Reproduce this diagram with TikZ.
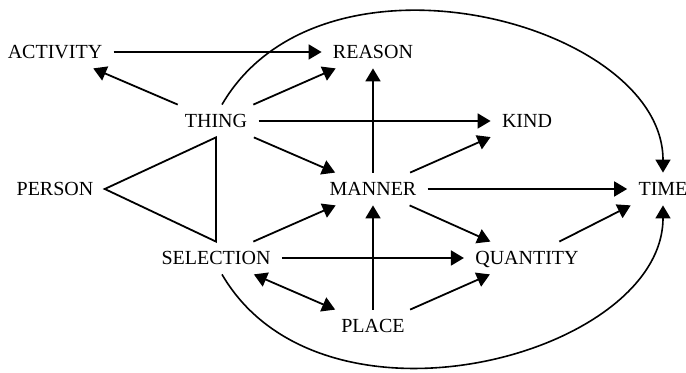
\documentclass[tikz,border=0pt]{standalone}
\usepackage{fontspec}
\setmainfont{Liberation Serif}
\usetikzlibrary{arrows.meta}
\tikzset{
  conceptnode/.style={
    inner xsep=5.5pt,
    inner ysep=4.7pt,
    text height=6.6pt,
    text depth=0pt,
    font=\normalsize
  },
  relflow/.style={-{Triangle[length=6.5pt,width=7.5pt]},line width=0.9pt,draw=black},
  twoway/.style={{Triangle[length=6.5pt,width=7.5pt]}-{Triangle[length=6.5pt,width=7.5pt]},line width=0.9pt,draw=black},
  longflow/.style={-{Triangle[length=6.5pt,width=7.5pt]},line width=0.8pt,draw=black},
  plainedge/.style={line width=0.9pt,draw=black}
}
\begin{document}
\begin{tikzpicture}[x=1pt,y=1pt]
  \useasboundingbox (0,0) rectangle (343,186.5);
  \node[conceptnode] (activity) at (27.5,160.5) {ACTIVITY};
  \node[conceptnode] (reason) at (186.5,160.5) {REASON};
  \node[conceptnode] (thing) at (108,126) {THING};
  \node[conceptnode] (kind) at (263.5,126) {KIND};
  \node[conceptnode] (person) at (27.5,92) {PERSON};
  \node[conceptnode] (manner) at (186.5,92) {MANNER};
  \node[conceptnode] (time) at (331.5,92) {TIME};
  \node[conceptnode] (selection) at (108,57.5) {SELECTION};
  \node[conceptnode] (quantity) at (263.5,57.5) {QUANTITY};
  \node[conceptnode] (place) at (186.5,23.5) {PLACE};
  % triangle
  \draw[plainedge] (person.east) -- (thing.south) -- (selection.north) -- cycle;
  % straight links
  \draw[relflow] (activity) -- (reason);
  \draw[relflow] (thing) -- (activity);
  \draw[relflow] (thing) -- (reason);
  \draw[relflow] (thing) -- (kind);
  \draw[relflow] (thing) -- (manner);
  \draw[relflow] (manner) -- (reason);
  \draw[relflow] (manner) -- (kind);
  \draw[relflow] (manner) -- (time);
  \draw[relflow] (manner) -- (quantity);
  \draw[relflow] (selection) -- (manner);
  \draw[relflow] (selection) -- (quantity);
  \draw[twoway] (selection) -- (place);
  \draw[relflow] (place) -- (manner);
  \draw[relflow] (place) -- (quantity);
  \draw[relflow] (quantity) -- (time);
  % long curves
  \draw[longflow] ([xshift=3pt]thing.north) .. controls +(50,86) and +(0,75) .. (time.north);
  \draw[longflow] ([xshift=3pt]selection.south) .. controls +(50,-86) and +(0,-75) .. (time.south);
\end{tikzpicture}
\end{document}
